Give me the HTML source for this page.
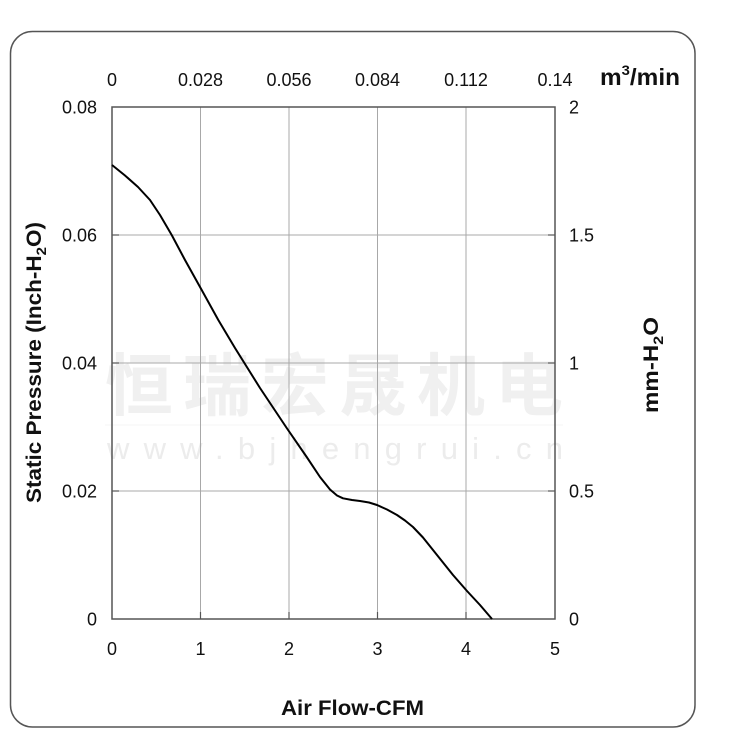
<!DOCTYPE html>
<html><head><meta charset="utf-8"><style>
html,body{margin:0;padding:0;background:#fff;}
svg{display:block;}
text{font-family:"Liberation Sans",Arial,sans-serif;fill:#111;}
</style></head><body>
<svg width="750" height="750" viewBox="0 0 750 750" xmlns="http://www.w3.org/2000/svg">
<rect x="0" y="0" width="750" height="750" fill="#fff"/>
<rect x="10.5" y="31.5" width="684.5" height="695.5" rx="22" ry="22" fill="none" stroke="#555" stroke-width="1.5"/>

<!-- watermark -->
<text x="105" y="410" font-size="68" font-weight="bold" textLength="458" lengthAdjust="spacing" style="font-family:'Noto Sans CJK SC','WenQuanYi Zen Hei',sans-serif;fill:#f0f0f0">恒瑞宏晟机电</text>
<line x1="105" y1="425" x2="563" y2="425" stroke="#f5f5f5" stroke-width="1"/>
<text x="107" y="459" font-size="31" textLength="456" lengthAdjust="spacing" style="fill:#ececec">www.bjhengrui.cn</text>

<!-- gridlines -->
<g stroke="#a8a8a8" stroke-width="1">
<line x1="200.5" y1="107" x2="200.5" y2="619"/>
<line x1="289" y1="107" x2="289" y2="619"/>
<line x1="377.5" y1="107" x2="377.5" y2="619"/>
<line x1="466" y1="107" x2="466" y2="619"/>
<line x1="112" y1="235" x2="555" y2="235"/>
<line x1="112" y1="363" x2="555" y2="363"/>
<line x1="112" y1="491" x2="555" y2="491"/>
</g>
<!-- ticks -->
<g stroke="#555" stroke-width="1.2">
<line x1="200.5" y1="612" x2="200.5" y2="619"/>
<line x1="289" y1="612" x2="289" y2="619"/>
<line x1="377.5" y1="612" x2="377.5" y2="619"/>
<line x1="466" y1="612" x2="466" y2="619"/>
<line x1="112" y1="235" x2="119" y2="235"/>
<line x1="112" y1="363" x2="119" y2="363"/>
<line x1="112" y1="491" x2="119" y2="491"/>
<line x1="548" y1="235" x2="555" y2="235"/>
<line x1="548" y1="363" x2="555" y2="363"/>
<line x1="548" y1="491" x2="555" y2="491"/>
</g>
<rect x="112" y="107" width="443" height="512" fill="none" stroke="#555" stroke-width="1.5"/>

<!-- curve -->
<polyline fill="none" stroke="#000" stroke-width="2" stroke-linejoin="round" points="112,165 125,175.5 138,187 150,200 160,215 171.7,235 185,260 201.7,290 218.3,320 235,348 260,388 286.7,428 306.7,457 320,477 330,489.5 337,495.5 343,498.3 352,500 360,501 369,502.5 377,505 387,509.5 397,515 405,520.5 413,527 423,537.5 433,550 443,562.5 453,575 467,591 480,605 492,619"/>

<!-- left tick labels -->
<g font-size="18" text-anchor="end">
<text x="97" y="113.5">0.08</text>
<text x="97" y="241.5">0.06</text>
<text x="97" y="369.5">0.04</text>
<text x="97" y="497.5">0.02</text>
<text x="97" y="625.5">0</text>
</g>
<!-- right tick labels -->
<g font-size="18" text-anchor="start">
<text x="569" y="113.5">2</text>
<text x="569" y="241.5">1.5</text>
<text x="569" y="369.5">1</text>
<text x="569" y="497.5">0.5</text>
<text x="569" y="625.5">0</text>
</g>
<!-- bottom tick labels -->
<g font-size="18" text-anchor="middle">
<text x="112" y="655">0</text>
<text x="200.5" y="655">1</text>
<text x="289" y="655">2</text>
<text x="377.5" y="655">3</text>
<text x="466" y="655">4</text>
<text x="555" y="655">5</text>
</g>
<!-- top tick labels -->
<g font-size="18" text-anchor="middle">
<text x="112" y="86">0</text>
<text x="200.5" y="86">0.028</text>
<text x="289" y="86">0.056</text>
<text x="377.5" y="86">0.084</text>
<text x="466" y="86">0.112</text>
<text x="555" y="86">0.14</text>
</g>
<text x="600" y="85" font-size="23" font-weight="bold" textLength="80" lengthAdjust="spacingAndGlyphs">m<tspan font-size="14" dy="-10">3</tspan><tspan dy="10">/min</tspan></text>

<text x="281" y="715" font-size="21" font-weight="bold" textLength="143" lengthAdjust="spacingAndGlyphs">Air Flow-CFM</text>

<text transform="translate(41,503) rotate(-90)" font-size="21" font-weight="bold" textLength="281" lengthAdjust="spacingAndGlyphs">Static Pressure (Inch-H<tspan font-size="14" dy="5">2</tspan><tspan dy="-5">O)</tspan></text>

<text transform="translate(658,413) rotate(-90)" font-size="21" font-weight="bold" textLength="96" lengthAdjust="spacingAndGlyphs">mm-H<tspan font-size="14" dy="5">2</tspan><tspan dy="-5">O</tspan></text>
</svg>
</body></html>
